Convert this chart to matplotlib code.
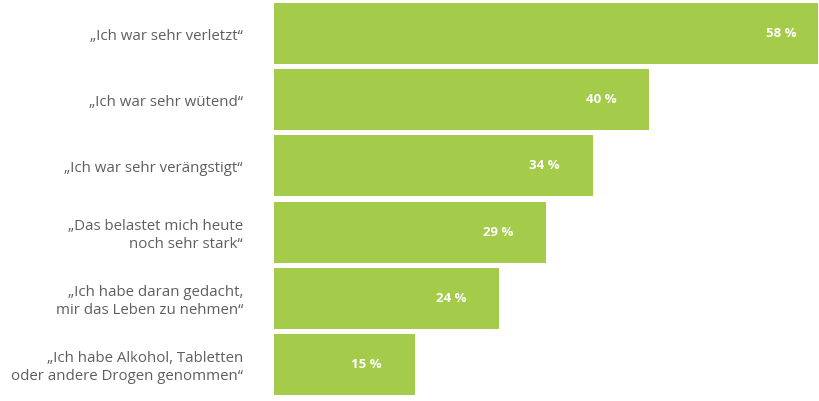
import matplotlib
matplotlib.use("Agg")
import matplotlib.pyplot as plt

# ===== Daten =====
labels = [
    "„Ich war sehr verletzt“",
    "„Ich war sehr wütend“",
    "„Ich war sehr verängstigt“",
    "„Das belastet mich heute\nnoch sehr stark“",
    "„Ich habe daran gedacht,\nmir das Leben zu nehmen“",
    "„Ich habe Alkohol, Tabletten\noder andere Drogen genommen“",
]
values = [58, 40, 34, 29, 24, 15]
value_texts = ["58 %", "40 %", "34 %", "29 %", "24 %", "15 %"]

BAR_COLOR = "#a5cb4b"
TEXT_COLOR = "#5e5e5e"

plt.rcParams["font.family"] = ["Open Sans", "DejaVu Sans"]

fig = plt.figure(figsize=(8.2, 4.01), dpi=100)
ax = fig.add_axes([274 / 820, 3 / 401, 546 / 820, 398 / 401])

ypos = list(range(len(values)))
ax.barh(ypos, values, height=0.92, color=BAR_COLOR, edgecolor="none")
ax.set_xlim(0, 58.2)
ax.set_ylim(len(values) - 0.5, -0.5)

for i, (v, t) in enumerate(zip(values, value_texts)):
    off = -21 if i == 0 else -33
    ax.annotate(t, xy=(v, i), xytext=(off, 0), textcoords="offset pixels",
                ha="right", va="center", color="white", fontsize=9.5,
                fontweight="bold")
    ax.annotate(labels[i], xy=(0, i), xytext=(-31, -3), textcoords="offset pixels",
                ha="right", va="center", color=TEXT_COLOR, fontsize=10.8,
                multialignment="right", linespacing=1.3, annotation_clip=False)

ax.set_xticks([])
ax.set_yticks([])
for s in ax.spines.values():
    s.set_visible(False)

fig.savefig("out.png", dpi=100)
plt.close(fig)
